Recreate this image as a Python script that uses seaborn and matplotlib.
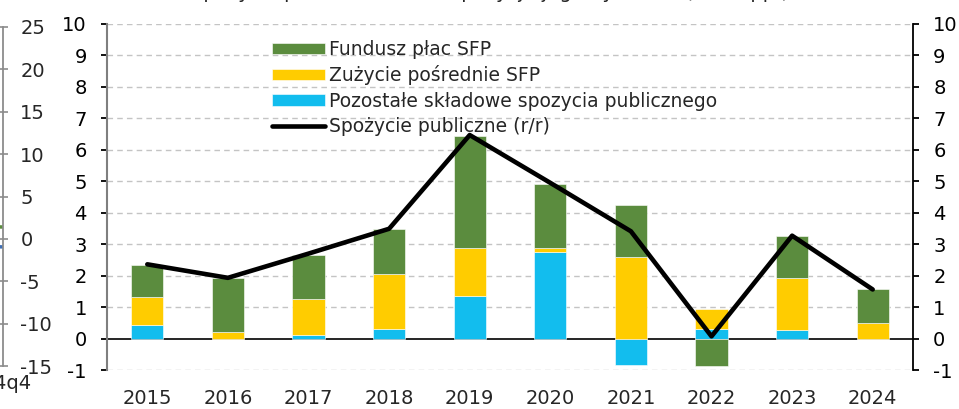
"""
Spożycie publiczne i wkłady jego składowych (r/r) - wykres słupkowy skumulowany.
Zapisuje out.png (959x409).
"""

import matplotlib
matplotlib.use("Agg")

import numpy as np
import pandas as pd
import matplotlib.pyplot as plt
import matplotlib.transforms as mtransforms
from matplotlib.lines import Line2D
import seaborn as sns

sns.set_theme(style="white")
plt.rcParams["font.family"] = ["DejaVu Sans"]
plt.rcParams["axes.unicode_minus"] = False

# dane
lata = ["2015", "2016", "2017", "2018", "2019", "2020", "2021", "2022", "2023", "2024"]
fundusz_plac = [1.02, 1.71, 1.40, 1.45, 3.57, 2.04, 1.64, -0.86, 1.32, 1.09]
zuzycie_posr = [0.90, 0.21, 1.17, 1.74, 1.54, 0.12, 2.59, 0.63, 1.67, 0.50]
pozostale = [0.42, 0.00, 0.10, 0.30, 1.34, 2.76, -0.83, 0.31, 0.26, 0.00]
spozycie_rr = [2.36, 1.93, 2.70, 3.49, 6.47, 4.95, 3.41, 0.07, 3.27, 1.56]

# fragment sąsiedniego wykresu (ucięty z lewej)
kwartaly_lewy = ["2024q3", "2024q4"]
lewy_zielony = [1.5, 1.4]
lewy_niebieski = [-0.8, -0.95]

tytul = "Spożycie publiczne i dekompozycja jego dynamiki (r/r, w pp.)"

ZIELONY = "#5B8C3E"
ZOLTY = "#FFCC00"
NIEBIESKI = "#12BDEE"

df = pd.DataFrame({
    "rok": lata,
    "Pozostałe składowe spozycia publicznego": pozostale,
    "Zużycie pośrednie SFP": zuzycie_posr,
    "Fundusz płac SFP": fundusz_plac,
})
skladowe = [
    ("Pozostałe składowe spozycia publicznego", NIEBIESKI),
    ("Zużycie pośrednie SFP", ZOLTY),
    ("Fundusz płac SFP", ZIELONY),
]

fig = plt.figure(figsize=(9.59, 4.09), dpi=100)
ax = fig.add_axes([107 / 959, 1 - 370 / 409, 806 / 959, 346 / 409])

# słupki skumulowane osobno dla wartości dodatnich i ujemnych (jak w Excelu)
x = np.arange(len(lata))
dod = np.zeros(len(lata))
uj = np.zeros(len(lata))
uchwyty = {}
for kol, kolor in skladowe:
    v = df[kol].to_numpy()
    dol = np.where(v >= 0, dod, uj)
    b = ax.bar(x, v, bottom=dol, width=0.4, color=kolor, edgecolor="white",
               linewidth=0.4, zorder=3, label=kol)
    uchwyty[kol] = b
    dod = dod + np.clip(v, 0, None)
    uj = uj + np.clip(v, None, 0)

sns.lineplot(x=x, y=spozycie_rr, ax=ax, color="black", linewidth=3.3,
             zorder=4, legend=False)
linia = ax.get_lines()[-1]
linia.set_solid_capstyle("round")

ax.set_xlim(-0.5, len(lata) - 0.5)
ax.set_ylim(-1, 10)
ax.set_yticks(range(-1, 11))
ax.set_xticks(x)
ax.set_xticklabels(lata)
ax.axhline(0, color="black", linewidth=1.2, zorder=2)
for v in range(-1, 11):
    if v != 0:
        ax.axhline(v, color="#c4c4c4", linewidth=1.0, dashes=(4, 3), zorder=1)

for s in ["top", "bottom"]:
    ax.spines[s].set_visible(False)
ax.spines["left"].set_color("#7f7f7f")
ax.spines["left"].set_linewidth(1.5)
ax.spines["right"].set_visible(True)
ax.spines["right"].set_color("black")
ax.spines["right"].set_linewidth(1.3)

ax.tick_params(axis="y", which="both", left=True, right=True, labelleft=True,
               labelright=True, direction="out", length=4.5, width=1.3,
               pad=10, labelsize=14, colors="black")
for t in ax.yaxis.get_ticklines()[::2]:
    t.set_color("#7f7f7f")
ax.tick_params(axis="x", length=0, pad=14, labelsize=14)
ax.set_xlabel("")
ax.set_ylabel("")

# legenda bez ramki
kol_leg = ["Fundusz płac SFP", "Zużycie pośrednie SFP",
           "Pozostałe składowe spozycia publicznego"]
h_linia = Line2D([], [], color="black", linewidth=3.3, solid_capstyle="round")
fig.legend([uchwyty[k] for k in kol_leg] + [h_linia],
           kol_leg + ["Spożycie publiczne (r/r)"],
           loc="upper left", bbox_to_anchor=(272 / 959, 1 - 40 / 409),
           frameon=False, fontsize=13.5, handlelength=2.85, handleheight=0.55,
           handletextpad=0.2, labelspacing=0.34, borderaxespad=0, borderpad=0)

# ucięty fragment lewego wykresu
ax2 = fig.add_axes([-0.2, 1 - 366 / 409, 0.2 + 3 / 959, 339 / 409])
sns.lineplot(x=[0, 1], y=lewy_zielony, ax=ax2, color="#5B8C3E", linewidth=2.5)
sns.lineplot(x=[0, 1], y=lewy_niebieski, ax=ax2, color="#3F6FB5", linewidth=2.5)
ax2.set_xlim(-5, 1)
ax2.set_ylim(-15, 25)
ax2.set_yticks(range(-15, 30, 5))
ax2.set_xticks([1])
ax2.set_xticklabels([kwartaly_lewy[-1]])
for s in ["top", "bottom", "left"]:
    ax2.spines[s].set_visible(False)
ax2.spines["right"].set_color("#8c8c8c")
ax2.spines["right"].set_linewidth(1.3)
ax2.yaxis.tick_right()
ax2.tick_params(axis="y", direction="inout", length=7, width=1.2, color="#8c8c8c",
                pad=9, labelsize=14)
ax2.tick_params(axis="x", length=0, pad=6, labelsize=14)
ax2.set_facecolor("none")
przesun = mtransforms.ScaledTranslation(-8 / 100, 0, fig.dpi_scale_trans)
for lab in ax2.get_xticklabels():
    lab.set_transform(lab.get_transform() + przesun)

fig.text(490 / 959, 1 + 1.5 / 409, tytul, ha="center", va="baseline", fontsize=14)

fig.savefig("out.png", dpi=100)
